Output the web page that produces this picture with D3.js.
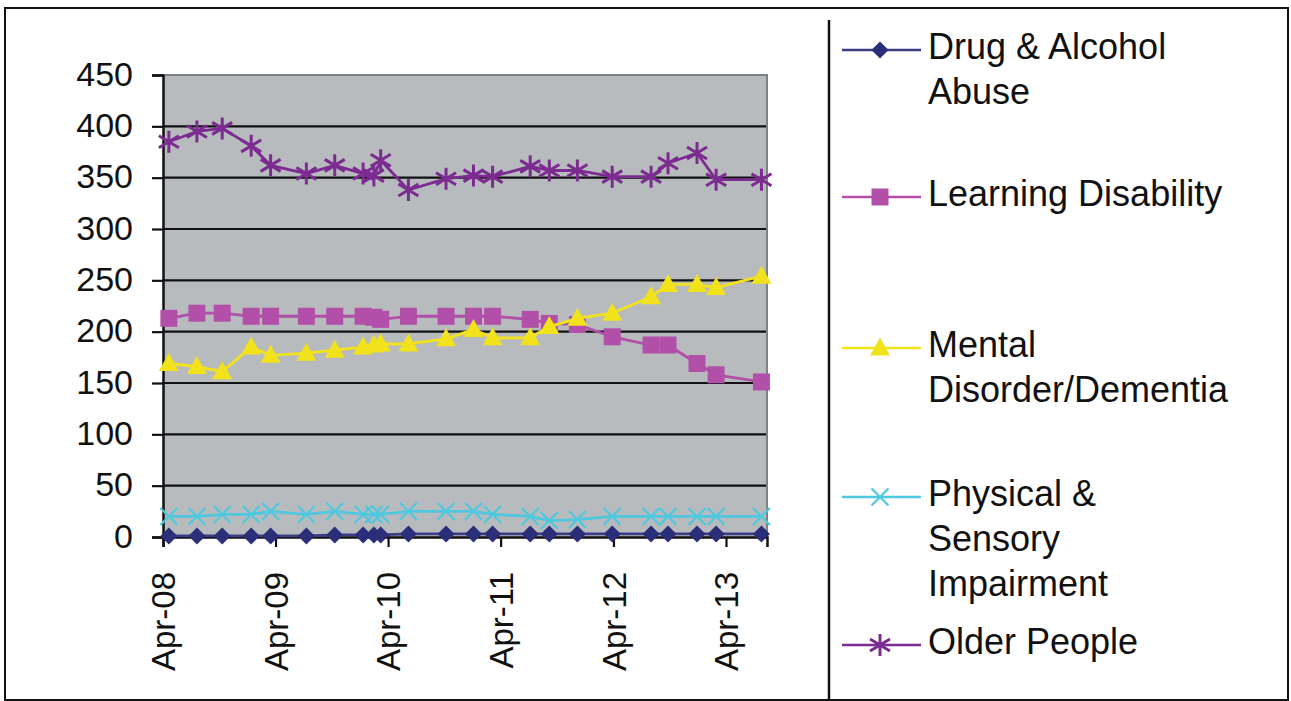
<!DOCTYPE html>
<html><head><meta charset="utf-8">
<script src="https://cdn.jsdelivr.net/npm/d3@7"></script>
<style>
html,body{margin:0;padding:0;background:#fff;}
svg{display:block;font-family:"Liberation Sans",Arial,Helvetica,sans-serif;}
</style>
</head><body>
<svg id="chart" width="1291" height="701"></svg>
<script>
// ---------------- DATA ----------------
const pointDates = ["2008-04-20","2008-07-20","2008-10-10","2009-01-12","2009-03-16","2009-07-10",
  "2009-10-10","2010-01-10","2010-02-14","2010-03-08","2010-06-06","2010-10-06","2011-01-03",
  "2011-03-06","2011-07-06","2011-09-06","2011-12-06","2012-03-28","2012-08-01","2012-09-25",
  "2012-12-28","2013-02-28","2013-07-25"];
const seriesNames = ["Drug & Alcohol Abuse","Learning Disability","Mental Disorder/Dementia",
  "Physical & Sensory Impairment","Older People"];
const legendLines = [["Drug & Alcohol","Abuse"],["Learning Disability"],["Mental","Disorder/Dementia"],
  ["Physical &","Sensory","Impairment"],["Older People"]];
const drugAlcohol = [1,1,1,1,1,1,2,2,2,2,3,3,3,3,3,3,3,3,3,3,3,3,3];
const learningDisability = [213,218,218,215,215,215,215,215,214,212,215,215,215,215,212,208,207,195,187,187,169,158,151];
const mentalDisorder = [169,166,161,185,177,179,182,185,187,188,188,193,202,194,194,205,213,218,234,246,246,243,254];
const physicalSensory = [20,20,22,22,25,22,25,22,22,22,25,25,25,22,20,16,17,20,20,20,20,20,20];
const olderPeople = [385,395,398,381,362,354,362,354,352,367,338,349,352,351,361,357,357,351,351,364,374,348,348];
const yTicks = [0,50,100,150,200,250,300,350,400,450];
const xTickDates = ["2008-04-01","2009-04-01","2010-04-01","2011-04-01","2012-04-01","2013-04-01"];
const xTickLabels = ["Apr-08","Apr-09","Apr-10","Apr-11","Apr-12","Apr-13"];
const xDomain = ["2008-04-01","2013-08-12"];

// ---------------- SETUP ----------------
const parse = d3.timeParse("%Y-%m-%d");
const dates = pointDates.map(parse);
const svg = d3.select("#chart");
const P = {l:163, r:767, t:75, b:537};
const x = d3.scaleTime().domain(xDomain.map(parse)).range([P.l, P.r]);
const y = d3.scaleLinear().domain([0,450]).range([P.b, P.t]);

const series = [
  {name:seriesNames[0], values:drugAlcohol, color:"#2b2e78", line:"#3b3d85", marker:"diamond"},
  {name:seriesNames[1], values:learningDisability, color:"#b24fa8", line:"#b24fa8", marker:"square"},
  {name:seriesNames[2], values:mentalDisorder, color:"#f2e21c", line:"#f2e21c", marker:"triangle"},
  {name:seriesNames[3], values:physicalSensory, color:"#4ec8df", line:"#4ec8df", marker:"x"},
  {name:seriesNames[4], values:olderPeople, color:"#7c2b90", line:"#7c2b90", marker:"star"}
];

// outer frame
svg.append("rect").attr("x",5).attr("y",8).attr("width",1283).attr("height",692)
  .attr("fill","none").attr("stroke","#111").attr("stroke-width",2);
// legend separator
svg.append("line").attr("x1",829).attr("x2",829).attr("y1",20).attr("y2",701)
  .attr("stroke","#111").attr("stroke-width",2.5);

// plot background
svg.append("rect").attr("x",P.l).attr("y",P.t).attr("width",P.r-P.l).attr("height",P.b-P.t)
  .attr("fill","#b8bbbe");
// gridlines
svg.append("g").selectAll("line").data(yTicks.filter(v=>v>0 && v<450)).join("line")
  .attr("x1",P.l).attr("x2",P.r).attr("y1",d=>y(d)).attr("y2",d=>y(d))
  .attr("stroke","#111").attr("stroke-width",2.2);
// plot border (top/right)
svg.append("path").attr("d",`M${P.l},${P.t}H${P.r}V${P.b}`)
  .attr("fill","none").attr("stroke","#7d8184").attr("stroke-width",2);

// y axis
const yAxis = svg.append("g").attr("transform",`translate(${P.l},0)`)
  .call(d3.axisLeft(y).tickValues(yTicks).tickSize(11).tickPadding(19).tickFormat(d3.format("d")));
yAxis.select(".domain").attr("stroke","#111").attr("stroke-width",2.5);
yAxis.selectAll(".tick line").attr("stroke","#111").attr("stroke-width",2.2);
yAxis.selectAll(".tick text").attr("font-size",34).attr("fill","#111")
  .attr("font-family","'Liberation Sans',Arial,sans-serif").attr("dy","0.3em");

// x axis
const xAxis = svg.append("g").attr("transform",`translate(0,${P.b})`)
  .call(d3.axisBottom(x).tickValues(xTickDates.map(parse)).tickSize(10)
    .tickFormat((d,i)=>xTickLabels[i]));
xAxis.select(".domain").attr("stroke","#111").attr("stroke-width",2.5);
xAxis.selectAll(".tick line").attr("stroke","#111").attr("stroke-width",2.2);
xAxis.selectAll(".tick text")
  .attr("y",null).attr("dy","0.35em")
  .attr("transform","translate(0,35) rotate(-90)")
  .attr("text-anchor","end")
  .attr("font-size",33).attr("fill","#111")
  .attr("font-family","'Liberation Sans',Arial,sans-serif");

// markers
function markerPath(type){
  switch(type){
    case "diamond": return "M0,-8.5L8.5,0L0,8.5L-8.5,0Z";
    case "square": return "M-8.5,-8.5H8.5V8.5H-8.5Z";
    case "triangle": return "M0,-10.5L10,7.5L-10,7.5Z";
    case "x": return "M-8.5,-8.5L8.5,8.5M-8.5,8.5L8.5,-8.5";
    case "star": return "M0,-11V11M-10,-6L10,6M-10,6L10,-6";
  }
}
function drawMarker(g, type, color){
  const filled = (type==="diamond"||type==="square"||type==="triangle");
  g.append("path").attr("d",markerPath(type))
    .attr("fill",filled?color:"none")
    .attr("stroke",color)
    .attr("stroke-width",filled?0:(type==="star"?3:2.2));
}

const line = d3.line().x((d,i)=>x(dates[i])).y(d=>y(d));
series.forEach(s=>{
  const g = svg.append("g");
  g.append("path").attr("d",line(s.values)).attr("fill","none")
    .attr("stroke",s.line).attr("stroke-width",2.8).attr("stroke-linejoin","round");
  s.values.forEach((v,i)=>{
    const mg = g.append("g").attr("transform",`translate(${x(dates[i])},${y(v)})`);
    drawMarker(mg, s.marker, s.color);
  });
});

// legend
const legendY = [50,197,348,497,645];
series.forEach((s,i)=>{
  const g = svg.append("g").attr("transform",`translate(0,${legendY[i]})`);
  g.append("line").attr("x1",842).attr("x2",921).attr("y1",0).attr("y2",0)
    .attr("stroke",s.line).attr("stroke-width",2.6);
  const mg = g.append("g").attr("transform","translate(880,0)");
  drawMarker(mg, s.marker, s.color);
  const t = g.append("text").attr("x",928).attr("y",9).attr("font-size",36).attr("fill","#111");
  legendLines[i].forEach((ln,k)=>{
    t.append("tspan").attr("x",928).attr("y",9+k*45).text(ln);
  });
});
</script>
</body></html>
